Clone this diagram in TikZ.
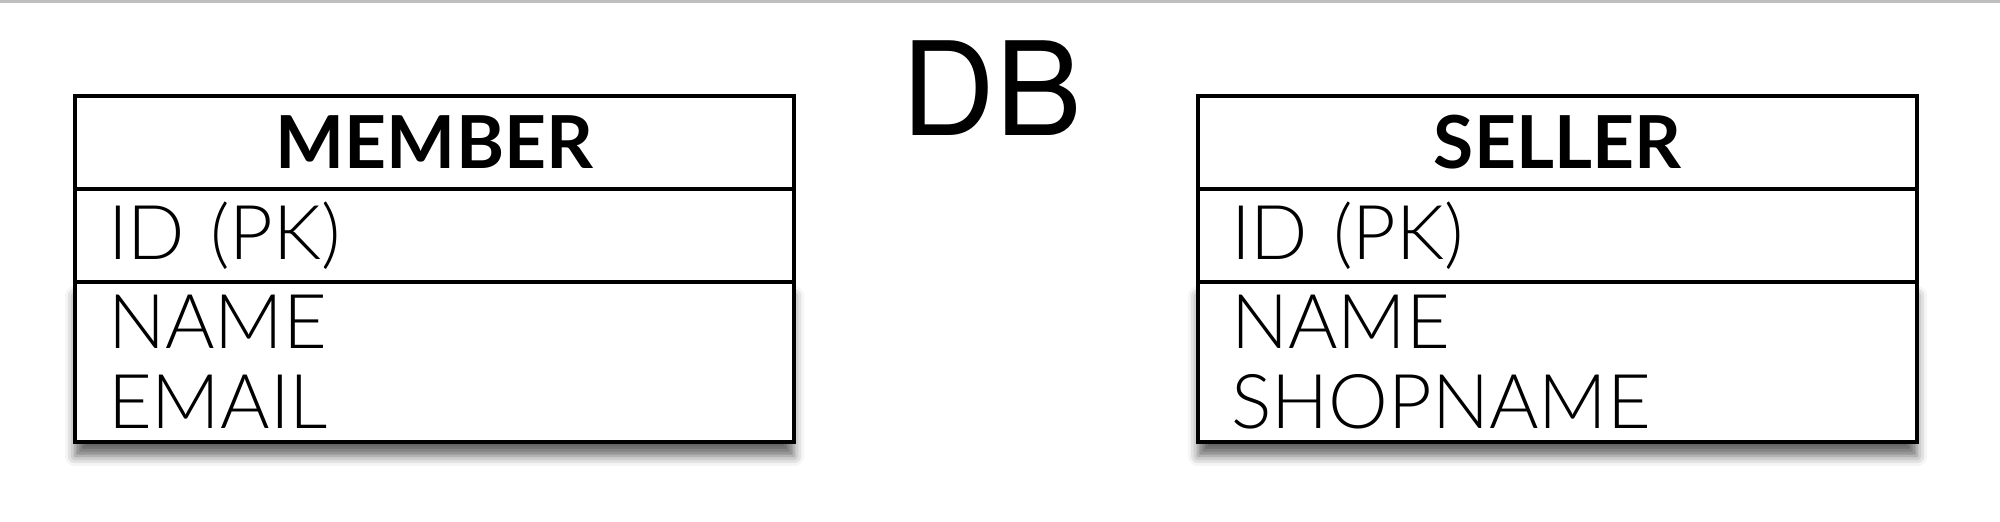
\documentclass[tikz,border=0pt]{standalone}
\usepackage{fontspec}
\setmainfont{TeX Gyre Heros}
\newfontfamily\thinfont{Lato Light}
\newfontfamily\headfont{Lato}
\usepackage{tikz}
\usetikzlibrary{positioning,shadows.blur}

\begin{document}
\begin{tikzpicture}[tbl/.style={draw, line width=1.25pt, fill=white, outer sep=0pt, minimum width=7.19cm, inner xsep=0.33cm, inner ysep=0pt},
		head/.style={tbl, minimum height=0.93cm, font=\headfont\bfseries\fontsize{20.8}{24}\selectfont},
		row/.style={tbl, minimum height=0.93cm, text width=6.53cm, align=left, font=\thinfont\fontsize{21.5}{22.7}\selectfont},
		cols/.style={row, minimum height=1.6cm, blur shadow={shadow xshift=0pt, shadow yshift=-0.14cm, shadow blur radius=0.1cm, shadow opacity=60}}]
		\useasboundingbox (0,0) rectangle (20,5.21);
		\draw[black!25, line width=0.03cm] (0,5.195) -- (20,5.195);
		\node[head] (member) at (4.345,3.785) {MEMBER};
		\node[row, below=0pt of member] (memberid) {ID (PK)};
		\node[cols, below=0pt of memberid] (membercols) {NAME\\EMAIL};
		\node[head, right=4.04cm of member] (seller) {SELLER};
		\node[row, below=0pt of seller] (sellerid) {ID (PK)};
		\node[cols, below=0pt of sellerid] (sellercols) {NAME\\SHOPNAME};
		\node[font=\fontsize{37}{40}\selectfont] (db) at (9.92,4.33) {DB};
	\end{tikzpicture}
\end{document}
